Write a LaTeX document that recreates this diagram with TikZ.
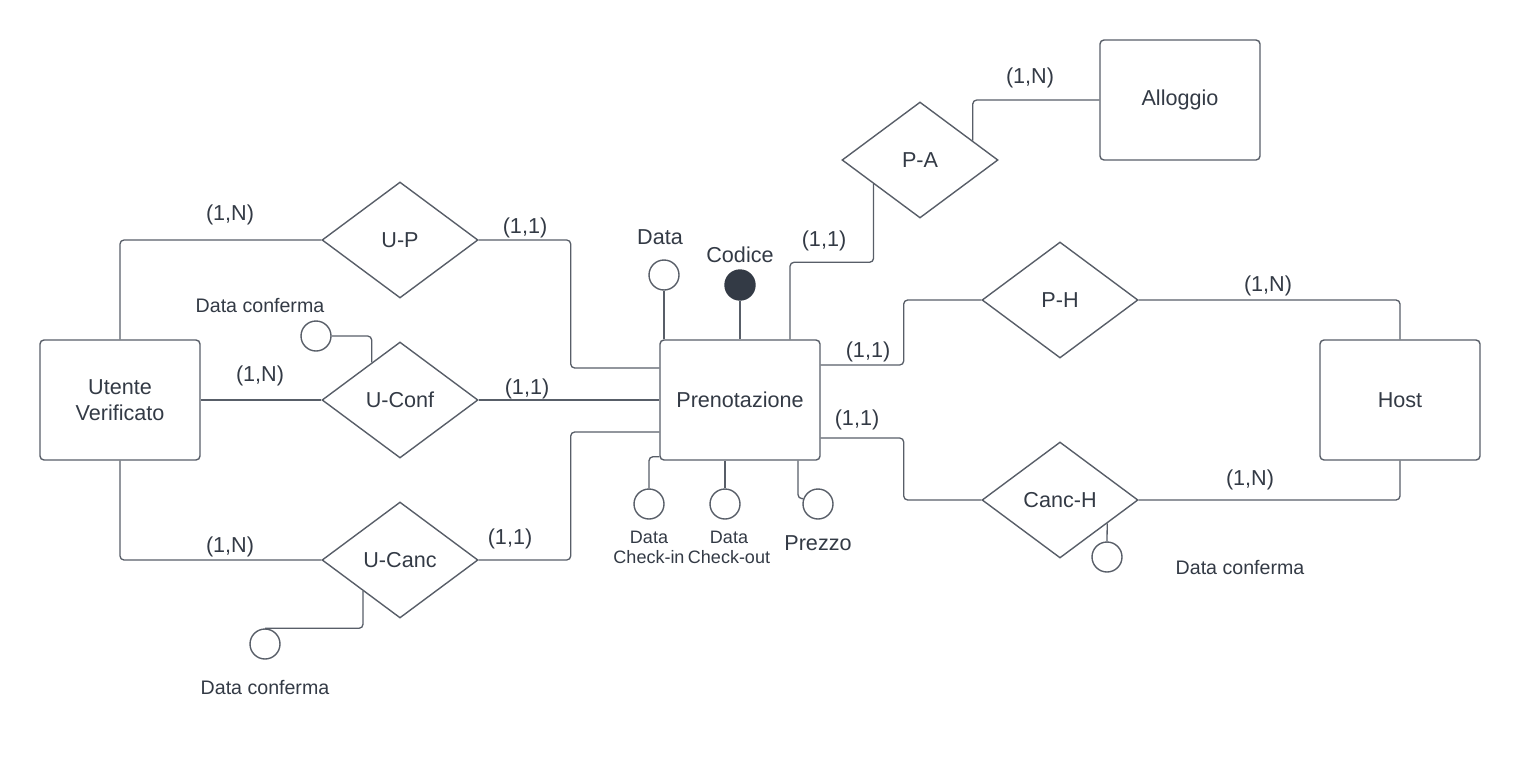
\documentclass[tikz,border=0pt]{standalone}
\usepackage{fontspec}
\setmainfont{Liberation Sans}
\usetikzlibrary{positioning, calc, shapes.geometric}
\definecolor{ink}{RGB}{51,58,69}
\definecolor{edge}{RGB}{88,94,104}

\begin{document}
\begin{tikzpicture}[
  x=0.5pt, y=-0.5pt,
  entity/.style = {draw=edge, line width=0.7pt, rounded corners=2pt, minimum width=80pt, minimum height=60pt, align=center, text=ink, font=\fontsize{10.8}{13}\selectfont},
  relation/.style = {draw=edge, line width=0.7pt, diamond, inner sep=0pt, minimum width=78pt, minimum height=58pt, text=ink, font=\fontsize{10.8}{13}\selectfont},
  attr/.style = {draw=edge, line width=0.7pt, circle, inner sep=0pt, minimum size=15pt},
  keyattr/.style = {attr, fill=ink, draw=ink},
  card/.style = {text=ink, inner sep=0pt, font=\fontsize{10.8}{13}\selectfont},
  note/.style = {text=ink, inner sep=0pt, align=center, font=\fontsize{9.8}{12}\selectfont},
  small/.style = {text=ink, inner sep=0pt, align=center, font=\fontsize{9}{10}\selectfont},
  link/.style = {draw=edge, line width=0.65pt, rounded corners=2pt}
]
  \useasboundingbox (0,0) rectangle (1520,760);

  % Entities
  \node[entity] (utente) at (120,400) {Utente\\Verificato};
  \node[entity] (pren) at (740,400) {Prenotazione};
  \node[entity] (alloggio) at (1180,100) {Alloggio};
  \node[entity] (host) at (1400,400) {Host};

  % Relations
  \node[relation] (up) at (400,240) {U-P};
  \node[relation] (uconf) at (400,400) {U-Conf};
  \node[relation] (ucanc) at (400,560) {U-Canc};
  \node[relation] (pa) at (920,160) {P-A};
  \node[relation] (ph) at (1060,300) {P-H};
  \node[relation] (canch) at (1060,500) {Canc-H};

  % Attributes of Prenotazione
  \node[attr] (aData) at (664,275) {};
  \node[keyattr] (aCodice) at (740,285) {};
  \node[attr] (aCheckin) at (649,504) {};
  \node[attr] (aCheckout) at (725,504) {};
  \node[attr] (aPrezzo) at (818,504) {};
  \node[card] (tData) at (660,237) {Data};
  \node[card] (tCodice) at (740,255) {Codice};
  \node[small] (tCheckin) at (649,547) {Data\\Check-in};
  \node[small] (tCheckout) at (729,547) {Data\\Check-out};
  \node[card] (tPrezzo) at (818,543) {Prezzo};

  \draw[link] (aData.south) -- (aData.south |- pren.north);
  \draw[link] (aCodice.south) -- (pren.north);
  \draw[link] ($(pren.south west)+(0,-4)$) -| (aCheckin.north);
  \draw[link] (aCheckout.north |- pren.south) -- (aCheckout.north);
  \draw[link] ($(pren.south)+(58,0)$) |- (aPrezzo.160);

  % Attributes of the relations
  \node[attr] (dcConf) at (316,336) {};
  \node[attr] (dcCanc) at (265,644) {};
  \node[attr] (dcHost) at (1107,557) {};
  \node[note] (tConf) at (260,306) {Data conferma};
  \node[note] (tCanc) at (265,687) {Data conferma};
  \node[note] (tHost) at (1240,567) {Data conferma};

  \draw[link] (dcConf.east) -| ($(uconf.west)!0.64!(uconf.north)$);
  \draw[link] ($(ucanc.west)!0.53!(ucanc.south)$) |- (dcCanc.north);
  \draw[link] ($(canch.east)!0.4!(canch.south)$) -- (dcHost.north);

  % U-P
  \draw[link] (up.west) -| (utente.north);
  \draw[link] (up.east) -- ++(92,0) |- ($(pren.west)+(0,-32)$);
  \node[card] (c1) at (230,215) {(1,N)};
  \node[card] (c2) at (525,228) {(1,1)};

  % U-Conf
  \draw[link] (utente.east) -- (uconf.west);
  \draw[link] (uconf.east) -- (pren.west);
  \node[card] (c3) at (260,376) {(1,N)};
  \node[card] (c4) at (527,389) {(1,1)};

  % U-Canc
  \draw[link] (utente.south) |- (ucanc.west);
  \draw[link] (ucanc.east) -- ++(92,0) |- ($(pren.west)+(0,32)$);
  \node[card] (c5) at (230,547) {(1,N)};
  \node[card] (c6) at (510,539) {(1,1)};

  % P-A
  \draw[link] ($(pren.north)+(50,0)$) -- ++(0,-77) -| ($(pa.west)!0.41!(pa.south)$);
  \draw[link] ($(pa.east)!0.33!(pa.north)$) |- (alloggio.west);
  \node[card] (c7) at (824,241) {(1,1)};
  \node[card] (c8) at (1030,78) {(1,N)};

  % P-H
  \draw[link] ($(pren.east)+(0,-35)$) -- ++(83,0) |- (ph.west);
  \draw[link] (ph.east) -| (host.north);
  \node[card] (c9) at (868,352) {(1,1)};
  \node[card] (c10) at (1268,286) {(1,N)};

  % Canc-H
  \draw[link] ($(pren.east)+(0,38)$) -- ++(83,0) |- (canch.west);
  \draw[link] (canch.east) -| (host.south);
  \node[card] (c11) at (857,420) {(1,1)};
  \node[card] (c12) at (1250,480) {(1,N)};

\end{tikzpicture}
\end{document}
